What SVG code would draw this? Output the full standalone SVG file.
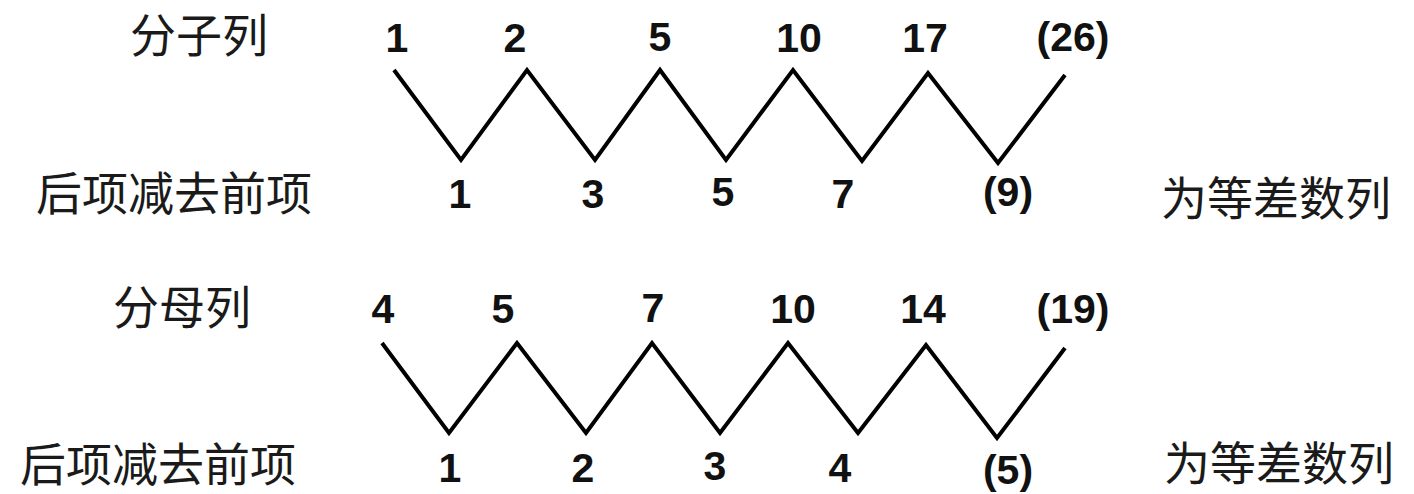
<svg xmlns="http://www.w3.org/2000/svg" width="1414" height="494" viewBox="0 0 1414 494">
<style>
.cjk{font-family:"Noto Sans CJK SC","Noto Sans",sans-serif;font-size:46px;fill:#1a1a1a;text-anchor:middle}
.num{font-family:"Liberation Sans",Arial,sans-serif;font-weight:bold;font-size:41px;fill:#111;text-anchor:middle}
.zz{fill:none;stroke:#000;stroke-width:4;stroke-linejoin:miter}
</style>
<rect width="1414" height="494" fill="#fff"/>
<g id="labels">
<text class="cjk" x="199" y="52">分子列</text>
<text class="cjk" x="174" y="210">后项减去前项</text>
<text class="cjk" x="1276" y="215">为等差数列</text>
<text class="cjk" x="182" y="324">分母列</text>
<text class="cjk" x="158" y="481">后项减去前项</text>
<text class="cjk" x="1279" y="480">为等差数列</text>
</g>
<g id="numerators">
<text class="num" x="397" y="52">1</text>
<text class="num" x="515" y="52">2</text>
<text class="num" x="660" y="51">5</text>
<text class="num" x="799" y="52">10</text>
<text class="num" x="925" y="52">17</text>
<text class="num" x="1073" y="51">(26)</text>
</g>
<g id="numerator-diffs">
<text class="num" x="460" y="208">1</text>
<text class="num" x="593" y="208">3</text>
<text class="num" x="723" y="206">5</text>
<text class="num" x="843" y="208">7</text>
<text class="num" x="1008" y="206">(9)</text>
</g>
<g id="denominators">
<text class="num" x="383" y="323">4</text>
<text class="num" x="503" y="323">5</text>
<text class="num" x="653" y="322">7</text>
<text class="num" x="793" y="323">10</text>
<text class="num" x="923" y="323">14</text>
<text class="num" x="1073" y="323">(19)</text>
</g>
<g id="denominator-diffs">
<text class="num" x="450" y="482">1</text>
<text class="num" x="583" y="482">2</text>
<text class="num" x="715" y="480">3</text>
<text class="num" x="840" y="482">4</text>
<text class="num" x="1008" y="484">(5)</text>
</g>
<g id="connectors">
<polyline class="zz" points="394,70 461,160 527,70 595,160 660,70 726,160 793,70 862,161 928,73 998,163 1065,75"/>
<polyline class="zz" points="382,343 449,433 517,343 586,433 652,343 720,433 788,343 858,433 926,345 997,438 1065,348"/>
</g>
</svg>
